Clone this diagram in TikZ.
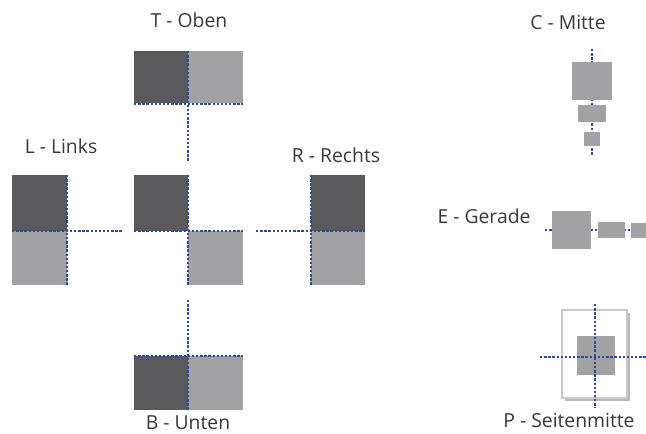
\documentclass[tikz,border=0pt]{standalone}
\usepackage{fontspec}
\setmainfont{Open Sans}
\begin{document}
\begin{tikzpicture}[x=0.75pt,y=-0.75pt,
  darkbox/.style={fill=boxdark},
  lightbox/.style={fill=boxlight},
  guide/.style={draw=guideblue,line width=2.2pt,dash pattern=on 1.8pt off 1.3pt},
  lbl/.style={text=textgray,font=\fontsize{14.5pt}{17pt}\selectfont,inner sep=0pt}]
\definecolor{boxdark}{HTML}{5A5A5C}
\definecolor{boxlight}{HTML}{A2A2A4}
\definecolor{guideblue}{HTML}{2A4A9E}
\definecolor{textgray}{HTML}{383838}
\definecolor{pageborder}{HTML}{C8C8C8}
\definecolor{pageshadow}{HTML}{B8B8B8}
\useasboundingbox (0,0) rectangle (646,433);
% T - Oben
\fill[darkbox] (134,51) rectangle (188,103);
\fill[lightbox] (188,51) rectangle (243,103);
\draw[guide] (188,51) -- (188,161);
\draw[guide] (134,104) -- (243,104);
\node[lbl] (tl) at (189,20) {T - Oben};
% L - Links
\fill[darkbox] (12,175) rectangle (67,231);
\fill[lightbox] (12,231) rectangle (67,285);
\draw[guide] (12,231) -- (122,231);
\draw[guide] (67,175) -- (67,285);
\node[lbl] (ll) at (61,146) {L - Links};
% Center
\fill[darkbox] (134,175) rectangle (188,231);
\fill[lightbox] (188,231) rectangle (243,285);
\draw[guide] (134,231) -- (243,231);
\draw[guide] (188,175) -- (188,285);
% R - Rechts
\fill[darkbox] (311,175) rectangle (365,231);
\fill[lightbox] (311,231) rectangle (365,285);
\draw[guide] (256,231) -- (365,231);
\draw[guide] (311,175) -- (311,285);
\node[lbl] (rl) at (336,155) {R - Rechts};
% B - Unten
\fill[darkbox] (134,356) rectangle (188,410);
\fill[lightbox] (188,356) rectangle (243,410);
\draw[guide] (188,300) -- (188,410);
\draw[guide] (134,356) -- (243,356);
\node[lbl] (bl) at (188,423) {B - Unten};
% C - Mitte
\node[lbl] (cl) at (568,22) {C - Mitte};
\draw[guide] (592,49) -- (592,155);
\fill[lightbox] (572,62) rectangle (612,100);
\fill[lightbox] (578,105) rectangle (606,122);
\fill[lightbox] (584,132) rectangle (600,146);
% E - Gerade
\node[lbl] (el) at (484,216) {E - Gerade};
\draw[guide] (545,230) -- (646,230);
\fill[lightbox] (552,211) rectangle (591,249);
\fill[lightbox] (598,222) rectangle (625,238);
\fill[lightbox] (631,223) rectangle (646,238);
% P - Seitenmitte
\fill[pageshadow] (565,313) rectangle (630,401);
\draw[pageborder,fill=white,line width=1.5pt] (562,310) rectangle (627,398);
\fill[lightbox] (577,336) rectangle (615,375);
\draw[guide] (595,304) -- (595,408);
\draw[guide] (540,357) -- (646,357);
\node[lbl] (pl) at (569,420) {P - Seitenmitte};
\end{tikzpicture}
\end{document}
